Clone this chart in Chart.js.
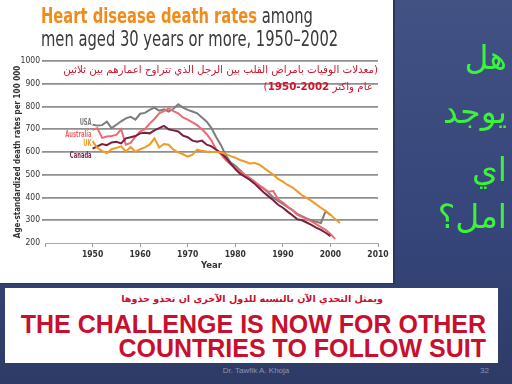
<!DOCTYPE html>
<html>
<head>
<meta charset="utf-8">
<script src="https://cdn.jsdelivr.net/npm/chart.js@4.4.1/dist/chart.umd.min.js"></script>
<style>
  html, body { margin:0; padding:0; }
  body { width:512px; height:384px; position:relative; overflow:hidden;
         background: linear-gradient(to bottom, #415283 0%, #36457a 60%, #2e3b66 100%); }
  #panel { position:absolute; left:0; top:0; width:393px; height:283px; background:#fff;
           border-right:2px solid #2a3560; border-bottom:1px solid #2a3560; }
  #chartWrap { position:absolute; left:0; top:0; width:393px; height:283px; }
  .narrow { font-family: 'Liberation Sans Narrow', 'DejaVu Sans Condensed', 'Liberation Sans', sans-serif; }
  #title { position:absolute; left:41px; top:5px; font-size:21px; line-height:23px; color:#3a3a3a; white-space:nowrap;
           transform: scaleX(0.78); transform-origin: 0 0; }
  #title b { color:#f08c1c; }
  .ar { font-family: 'DejaVu Sans', sans-serif; direction: rtl; white-space:nowrap; position:absolute; }
  #arNote1 { right:134px; top:63px; font-size:10.3px; color:#d3122b; }
  #arNote2 { right:139px; top:80px; font-size:10.3px; color:#d3122b; }
  .green { color:#3cf23c; font-size:33px; right:5px; }
  #banner { position:absolute; left:5px; top:288px; width:493px; height:75px; background:#fff; }
  #bnAr { right:115px; top:5px; font-size:9.6px; font-weight:bold; color:#c8102e; }
  .bnEn { position:absolute; right:12px; font-family:'Liberation Sans', Arial, sans-serif; font-weight:bold;
          color:#c8102e; font-size:25px; line-height:25px; white-space:nowrap; }
  #footer { position:absolute; left:0; width:512px; top:366px; text-align:center; font-family:'Liberation Sans', sans-serif;
            font-size:8px; color:#8c95b3; }
  #pageNo { position:absolute; left:480px; top:366px; font-family:'Liberation Sans', sans-serif; font-size:8px; color:#8c95b3; }
</style>
</head>
<body>
<div id="panel"></div>
<div id="chartWrap"><canvas id="c" width="393" height="283"></canvas></div>
<div id="title" class="narrow"><b>Heart disease death rates</b> among<br>men aged 30 years or more, 1950–2002</div>
<div id="arNote1" class="ar">(معدلات الوفيات بامراض القلب بين الرجل الذي تتراوح اعمارهم بين ثلاثين</div>
<div id="arNote2" class="ar">عام واكثر <b>2002-1950</b>)</div>
<div class="ar green" style="top:38px;">هل</div>
<div class="ar green" style="top:92px;">يوجد</div>
<div class="ar green" style="top:150px;">اي</div>
<div class="ar green" style="top:197px;">امل؟</div>
<div id="banner">
  <div id="bnAr" class="ar">ويمثل التحدي الآن بالنسبه للدول الآخرى ان تحذو حذوها</div>
  <div class="bnEn" style="top:24px;">THE CHALLENGE IS NOW FOR OTHER</div>
  <div class="bnEn" style="top:48px;">COUNTRIES TO FOLLOW SUIT</div>
</div>
<div id="footer">Dr. Tawfik A. Khoja</div>
<div id="pageNo">32</div>
<script>
// ---- data ----
const seriesNames = ['UK', 'Canada', 'Australia', 'USA'];
const years = [];
for (let y = 1950; y <= 2002; y++) years.push(y);
const ukValues = [648, 618, 605, 595, 612, 618, 625, 602, 622, 602, 612, 620, 632, 660, 620, 635, 632, 610, 598, 590,
                  580, 588, 610, 605, 602, 600, 600, 598, 592, 582, 575, 565, 558, 550, 552, 545, 530, 515, 500, 482,
                  470, 455, 445, 428, 410, 398, 385, 370, 355, 340, 325, 305, 288];
const canadaValues = [615, 625, 635, 630, 642, 645, 638, 660, 665, 670, 682, 685, 682, 695, 705, 715, 700, 695, 690, 672,
                      665, 650, 645, 650, 632, 625, 610, 595, 575, 550, 525, 505, 492, 478, 462, 442, 422, 405, 388, 368,
                      355, 338, 322, 305, 300, 290, 280, 268, 258, 245, 230];
const australiaValues = [698, 705, 662, 668, 670, 675, 700, 632, 640, 668, 690, 700, 725, 745, 770, 780, 792, 780, 770, 752,
                         742, 730, 718, 700, 678, 650, 610, 590, 565, 545, 530, 515, 500, 485, 470, 455, 440, 425, 428, 392,
                         378, 360, 345, 325, 315, 305, 295, 283, 270, 258, 240, 218];
const usaValues = [720, 716, 718, 733, 705, 720, 735, 748, 755, 742, 768, 772, 785, 795, 782, 788, 778, 790, 810, 795,
                   785, 778, 770, 752, 733, 705, 665, 630, 585, 555, 540, 520, 500, 485, 470, 452, 438, 420, 400, 385,
                   372, 358, 345, 328, 318, 308, 300, 293, 288, 340, 323];
const xTicks = [1950, 1960, 1970, 1980, 1990, 2000, 2010];
const yTicks = [200, 300, 400, 500, 600, 700, 800, 900, 1000];
const labelNames = ['USA', 'Australia', 'UK', 'Canada'];
const labelLevels = [727, 675, 635, 582];

const colors = { UK:'#f39a25', Canada:'#7a1f3f', Australia:'#ec6a70', USA:'#7c7c7c' };
const valuesBy = { UK: ukValues, Canada: canadaValues, Australia: australiaValues, USA: usaValues };
const narrow = "'Liberation Sans Narrow', 'DejaVu Sans Condensed', 'Liberation Sans', sans-serif";

const datasets = seriesNames.map(n => ({
  label: n,
  data: valuesBy[n].map((v, i) => ({ x: years[i], y: v })),
  borderColor: colors[n],
  borderWidth: 2,
  pointRadius: 0,
  tension: 0,
  fill: false
}));

const seriesLabelPlugin = {
  id: 'seriesLabels',
  afterDatasetsDraw(chart) {
    const ctx = chart.ctx, xs = chart.scales.x, ys = chart.scales.y;
    ctx.save();
    ctx.font = 'bold 8.5px ' + narrow;
    ctx.textAlign = 'right';
    ctx.textBaseline = 'middle';
    labelNames.forEach((n, i) => {
      ctx.save();
      ctx.translate(xs.getPixelForValue(1949.8), ys.getPixelForValue(labelLevels[i]));
      ctx.scale(0.68, 1);
      ctx.fillStyle = colors[n];
      ctx.fillText(n, 0, 0);
      ctx.restore();
    });
    ctx.restore();
  }
};

new Chart(document.getElementById('c'), {
  type: 'line',
  data: { datasets },
  plugins: [seriesLabelPlugin],
  options: {
    responsive: false,
    animation: false,
    layout: { padding: { left: 0, top: 61, right: 15, bottom: 0 } },
    plugins: { legend: { display: false }, tooltip: { enabled: false } },
    scales: {
      x: {
        type: 'linear', min: 1940, max: 2010,
        afterFit(s) { s.height = 40; },
        afterBuildTicks(s) { s.ticks = [1940].concat(xTicks).map(v => ({ value: v })); },
        ticks: { color: '#333', font: { family: narrow, size: 8.5, weight: 'bold' }, padding: 3,
                 callback: v => v === 1940 ? '' : String(v), maxRotation: 0 },
        grid: { drawOnChartArea: false, drawTicks: true, tickLength: 4, color: '#999', lineWidth: 1 },
        border: { display: true, color: '#aaa', width: 1 },
        title: { display: true, text: 'Year', color: '#333', font: { family: narrow, size: 9.5, weight: 'bold' }, padding: { top: 0, bottom: 12 } }
      },
      y: {
        min: 200, max: 1000,
        afterFit(s) { s.width = 45; },
        afterBuildTicks(s) { s.ticks = yTicks.map(v => ({ value: v })); },
        ticks: { color: '#333', font: { family: narrow, size: 8.5 }, padding: 2, callback: v => String(v) },
        grid: { color: '#8f8f8f', lineWidth: c => c.tick && c.tick.value === 200 ? 0 : 1.8, tickLength: 3, drawTicks: true },
        border: { display: false },
        title: { display: true, text: 'Age-standardized death rates per 100 000', color: '#333',
                 font: { family: narrow, size: 8, weight: 'bold' }, padding: { top: 13, bottom: 0 } }
      }
    }
  }
});
</script>
</body>
</html>
